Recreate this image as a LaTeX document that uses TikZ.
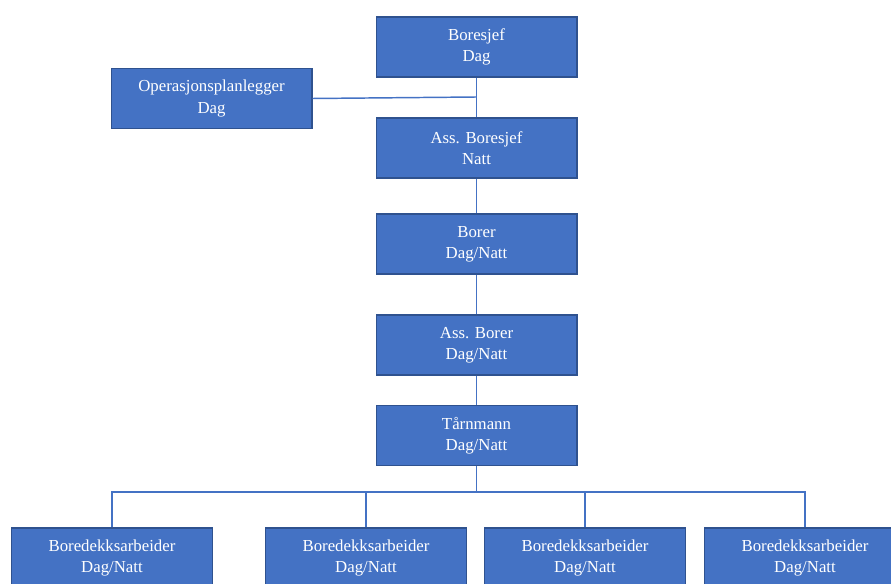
\documentclass[tikz,border=0pt]{standalone}
\usepackage{fontspec}
\setmainfont{Liberation Serif}
\usetikzlibrary{positioning}
\definecolor{boxblue}{HTML}{4472C4}
\definecolor{boxedge}{HTML}{2F528F}
\tikzset{
  role/.style={rectangle, draw=boxedge, line width=1pt, fill=boxblue, text=white, align=center,
    minimum width=150.5pt, minimum height=45pt, inner sep=2pt, font=\fontsize{12.6}{15.8}\selectfont},
  link/.style={draw=boxblue, line width=1.1pt},
}
\begin{document}
\begin{tikzpicture}[x=0.75pt, y=-0.75pt]
  \useasboundingbox (0,0) rectangle (891,584);
  % chain of command
  \node[role] (boss) at (476.5,47) {Boresjef\\Dag};
  \node[role] (plan) at (211.5,98.5) {Operasjonsplanlegger\\Dag};
  \node[role] (assboss) at (476.5,148) {Ass. Boresjef\\Natt};
  \node[role] (borer) at (476.5,244) {Borer\\Dag/Natt};
  \node[role] (assborer) at (476.5,345) {Ass. Borer\\Dag/Natt};
  \node[role] (tarn) at (476.5,435.5) {T\r{a}rnmann\\Dag/Natt};
  % deck crew
  \foreach \i/\x in {1/112, 2/366, 3/585, 4/805}
    \node[role] (w\i) at (\x,558) {Boredekksarbeider\\Dag/Natt};
  % lines
  \coordinate (join) at (476.5,97);
  \coordinate (bus) at (476.5,492);
  \draw[link] (boss) -- (assboss);
  \draw[link] (plan.east) -- (join);
  \draw[link] (assboss) -- (borer);
  \draw[link] (borer) -- (assborer);
  \draw[link] (assborer) -- (tarn);
  \foreach \i in {1,...,4}
    \draw[link] (tarn.south) -- (bus) -| (w\i.north);
\end{tikzpicture}
\end{document}
